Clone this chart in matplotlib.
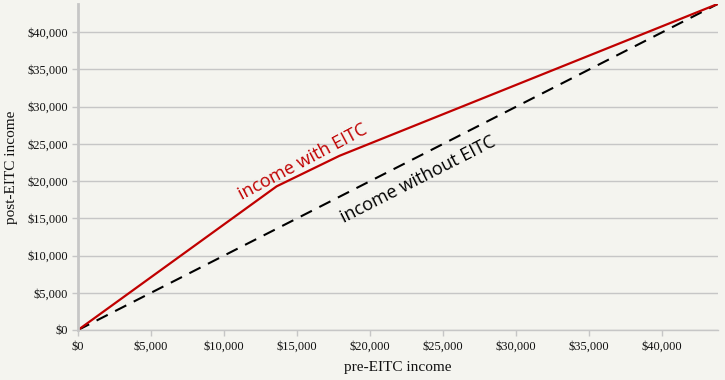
import numpy as np
import matplotlib.pyplot as plt
from matplotlib.ticker import FuncFormatter

# values
pre_income = [0, 13600, 17900, 43800]
post_income = [0, 19300, 23400, 43800]
base_income = [0, 43800]
ticks = [0, 5000, 10000, 15000, 20000, 25000, 30000, 35000, 40000]

bg = '#f4f4ef'
grid_c = '#c6c6c6'

fig = plt.figure(figsize=(7.25, 3.8), dpi=100, facecolor=bg)
ax = fig.add_axes([0.1076, 0.1316, 0.8824, 0.858], facecolor=bg)

ax.plot(base_income, base_income, color='black', lw=1.5, dashes=(6, 4))
ax.plot(pre_income, post_income, color='#c00000', lw=1.6)

ax.set_xlim(0, 43800)
ax.set_ylim(0, 43800)
ax.set_xticks(ticks)
ax.set_yticks(ticks)
money = FuncFormatter(lambda v, p: '${:,.0f}'.format(v))
ax.xaxis.set_major_formatter(money)
ax.yaxis.set_major_formatter(money)

serif = ['Liberation Serif', 'DejaVu Serif']
for lab in ax.get_xticklabels() + ax.get_yticklabels():
    lab.set_family(serif)
    lab.set_fontsize(9)
ax.tick_params(axis='both', colors=grid_c, labelcolor='#111111', length=4, width=1)
ax.tick_params(axis='x', pad=4)
ax.tick_params(axis='y', pad=3)

ax.grid(axis='y', color=grid_c, lw=1)
ax.set_axisbelow(True)
for s in ['top', 'right']:
    ax.spines[s].set_visible(False)
ax.spines['left'].set_color(grid_c)
ax.spines['left'].set_linewidth(2)
ax.spines['bottom'].set_color(grid_c)
ax.spines['bottom'].set_linewidth(1)

ax.set_xlabel('pre-EITC income', family=serif, fontsize=11, color='#111111', labelpad=6)
ax.set_ylabel('post-EITC income', family=serif, fontsize=11, color='#111111', labelpad=7)

ax.text(15400, 22550, 'income with EITC', color='#c00000', fontsize=13,
        family=['Open Sans', 'DejaVu Sans'], rotation=28, ha='center', va='center',
        rotation_mode='anchor')
ax.text(23300, 20150, 'income without EITC', color='black', fontsize=13,
        family=['Open Sans', 'DejaVu Sans'], rotation=27, ha='center', va='center',
        rotation_mode='anchor')

fig.savefig('out.png', dpi=100, facecolor=bg)
